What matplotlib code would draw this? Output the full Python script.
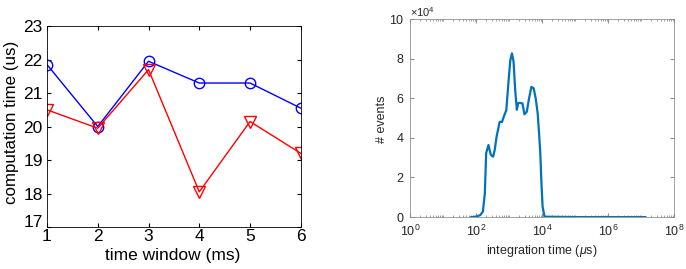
import matplotlib
matplotlib.use('Agg')
from matplotlib import pyplot as plt
from matplotlib import ticker

plt.rcParams['font.family'] = ['Liberation Sans', 'DejaVu Sans']
plt.rcParams['mathtext.fontset'] = 'custom'
plt.rcParams['mathtext.rm'] = 'Liberation Sans'
plt.rcParams['mathtext.it'] = 'Liberation Sans:italic'

# left panel: computation time per time window
time_window = [1, 2, 3, 4, 5, 6]
time_circle = [21.85, 20.0, 21.95, 21.3, 21.3, 20.55]
time_triangle = [20.5, 19.95, 21.7, 18.05, 20.15, 19.2]

# right panel: event count vs integration time (log10 of us, count / 1e4)
log_integration = [1.85, 2.0, 2.12, 2.2, 2.26, 2.30, 2.37, 2.44, 2.51, 2.56,
                   2.62, 2.71, 2.78, 2.84, 2.91, 2.98, 3.03, 3.08, 3.13,
                   3.18, 3.23, 3.27, 3.31, 3.40, 3.46, 3.53, 3.60, 3.67,
                   3.74, 3.80, 3.86, 3.90, 3.94, 3.98, 4.01, 4.07, 5.0,
                   6.0, 7.12]
events = [0.0, 0.02, 0.1, 0.27, 1.2, 3.23, 3.64, 3.15, 3.05, 3.4, 4.1, 4.81,
          4.81, 5.1, 5.40, 6.9, 7.9, 8.27, 7.85, 6.4, 5.42, 5.75, 5.77, 5.74,
          5.19, 5.32, 6.0, 6.58, 6.50, 6.0, 5.25, 4.3, 3.23, 1.5, 0.52, 0.02,
          0.0, 0.0, 0.0]

fig = plt.figure(figsize=(6.86, 2.69), dpi=100)

ax1 = fig.add_axes([0.0685, 0.156, 0.370, 0.747])
ax1.plot(time_window, time_circle, color='#0000ff', marker='o', ms=7.5,
         mfc='none', mew=1.0, lw=1.0)
ax1.plot(time_window, time_triangle, color='#ff0000', marker='v', ms=8,
         mfc='none', mew=1.0, lw=1.0)
ax1.set_xlim(1, 6)
ax1.set_ylim(17, 23)
ax1.set_xticks(time_window)
ax1.set_yticks(range(17, 24))
ax1.tick_params(direction='in', labelsize=12.5, length=3, top=True,
                right=True)
ax1.tick_params(axis='x', pad=1.5)
ax1.tick_params(axis='y', pad=3)
ax1.get_yticklabels()[0].set_verticalalignment('baseline')
ax1.set_xlabel('time window (ms)', fontsize=12.5, va='top')
ax1.xaxis.set_label_coords(0.494, -0.104)
ax1.set_ylabel('computation time (us)', fontsize=12.2)
ax1.yaxis.set_label_coords(-0.11, 0.52)
for s in ax1.spines.values():
    s.set_linewidth(0.6)

gray = '#909090'
txt = '#262626'
ax2 = fig.add_axes([0.598, 0.193, 0.385, 0.736])
ax2.plot([10 ** v for v in log_integration], events, color='#0072bd', lw=1.6)
ax2.set_xscale('log')
ax2.set_xlim(1, 1e8)
ax2.set_ylim(0, 10)
ax2.set_xticks([10 ** d for d in range(0, 9, 2)])
ax2.xaxis.set_major_formatter(ticker.FixedFormatter(
    [r'$10^{%d}$' % d for d in range(0, 9, 2)]))
ax2.xaxis.set_minor_locator(ticker.LogLocator(base=10, subs=range(1, 10),
                                              numticks=20))
ax2.xaxis.set_minor_formatter(ticker.NullFormatter())
ax2.set_yticks(range(0, 11, 2))
ax2.tick_params(which='both', direction='in', labelsize=9, colors=gray,
                labelcolor=txt, top=True, right=True)
ax2.tick_params(axis='x', pad=5)
ax2.tick_params(axis='y', pad=5)
ax2.tick_params(which='major', length=3)
ax2.tick_params(which='minor', length=1.5)
ax2.set_xlabel(r'integration time ($\mu$s)', fontsize=9, color=txt,
               va='top')
ax2.xaxis.set_label_coords(0.5, -0.13)
ax2.set_ylabel('# events', fontsize=9, color=txt)
ax2.yaxis.set_label_coords(-0.083, 0.495)
ax2.text(0.0, 1.0, r'$\times10^{4}$', transform=ax2.transAxes,
         fontsize=8, color=txt, va='bottom', ha='left')
for s in ax2.spines.values():
    s.set_color(gray)
    s.set_linewidth(0.6)

fig.savefig('out.png', dpi=100)
